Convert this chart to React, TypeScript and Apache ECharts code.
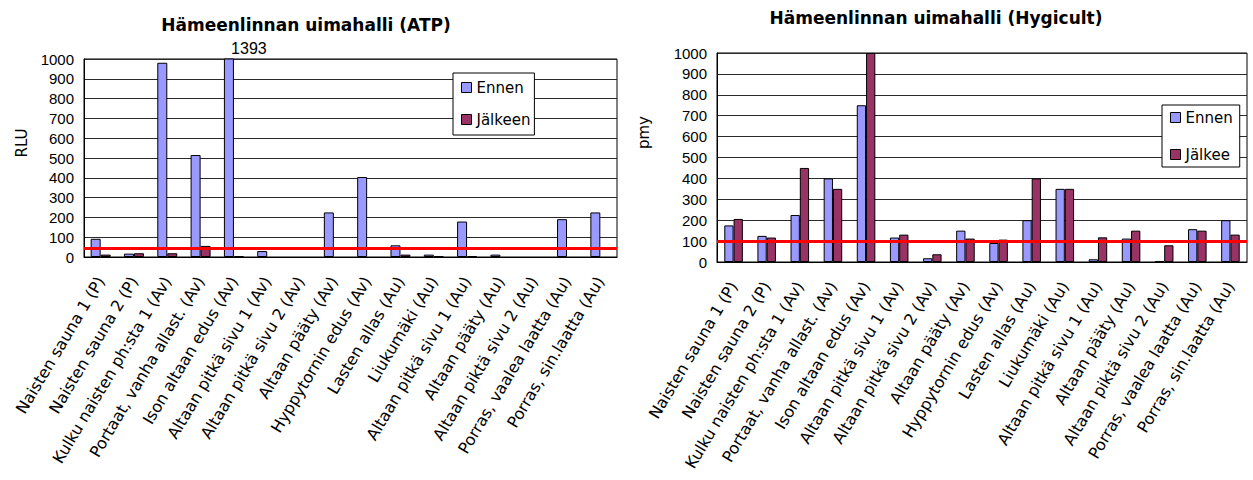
import React, { useEffect, useRef } from "react";
import * as echarts from "echarts";

const categories = [
  "Naisten sauna 1 (P)",
  "Naisten sauna 2 (P)",
  "Kulku naisten ph:sta 1 (Av)",
  "Portaat, vanha allast. (Av)",
  "Ison altaan edus (Av)",
  "Altaan pitkä sivu 1 (Av)",
  "Altaan pitkä sivu 2 (Av)",
  "Altaan pääty (Av)",
  "Hyppytornin edus (Av)",
  "Lasten allas (Au)",
  "Liukumäki (Au)",
  "Altaan pitkä sivu 1 (Au)",
  "Altaan pääty (Au)",
  "Altaan piktä sivu 2 (Au)",
  "Porras, vaalea laatta (Au)",
  "Porras, sin.laatta (Au)",
];

const atpEnnen = [92, 17, 981, 515, 1393, 30, null, 225, 404, 59, 12, 179, 12, null, 191, 225];
const atpJalkeen = [12, 19, 19, 56, 5, null, null, null, null, 12, 5, 5, null, null, null, null];
const atpLimit = 45;

const hygEnnen = [175, 125, 225, 400, 750, 117, 18, 150, 91, 200, 350, 13, 112, 5, 157, 200];
const hygJalkeen = [206, 117, 450, 350, 1000, 131, 37, 112, 107, 400, 350, 118, 150, 80, 150, 131];
const hygLimit = 100;

const ticksMax = 1000;
const ticksStep = 100;

const COL_ENNEN = "#9999FF";
const COL_JALKEEN = "#993366";
const SANS = "DejaVu Sans";
const ARIAL = "Liberation Sans";

function yAxis(gridIndex: number, name: string, nameGap: number, shift: number) {
  return {
    type: "value",
    gridIndex,
    min: 0,
    max: ticksMax,
    interval: ticksStep,
    name,
    nameLocation: "middle",
    nameGap,
    nameRotate: 90,
    nameTextStyle: { fontFamily: SANS, fontSize: 15, color: "#000", padding: [0, 0, 0, shift] },
    axisLine: { show: true, lineStyle: { color: "#000", width: 1 } },
    axisTick: { show: false },
    axisLabel: {
      fontFamily: ARIAL,
      fontSize: 15,
      color: "#000",
      margin: 10,
      formatter: (v: number) => String(v),
    },
    splitLine: { show: true, lineStyle: { color: "#2a2a2a", width: 1 } },
  };
}

function xAxis(gridIndex: number) {
  return {
    type: "category",
    gridIndex,
    data: categories,
    axisLine: { show: true, lineStyle: { color: "#000", width: 1 } },
    axisTick: { show: false },
    axisLabel: {
      interval: 0,
      rotate: 59,
      fontFamily: SANS,
      fontSize: 16,
      color: "#000",
      margin: 21,
    },
    splitLine: { show: false },
  };
}

function limitLine(v: number) {
  return {
    silent: true,
    symbol: "none",
    label: { show: false },
    lineStyle: { color: "#FF0000", width: 3, type: "solid" },
    data: [{ yAxis: v }],
  };
}

const barItem = (c: string) => ({ color: c, borderColor: "#000", borderWidth: 1 });

export default function App() {
  const ref = useRef<HTMLDivElement>(null);
  useEffect(() => {
    if (!ref.current) return;
    const chart = echarts.init(ref.current, null, { renderer: "svg" });
    const legendCommon = {
      orient: "vertical",
      icon: "rect",
      itemWidth: 10,
      itemHeight: 10,
      backgroundColor: "#fff",
      borderColor: "#000",
      borderWidth: 1,
      borderRadius: 0,
      itemStyle: { borderColor: "#000", borderWidth: 1 },
      textStyle: { fontFamily: SANS, fontSize: 15, color: "#000", lineHeight: 15 },
      selectedMode: false,
    };
    chart.setOption({
      animation: false,
      backgroundColor: "#fff",
      title: [
        {
          text: "Hämeenlinnan uimahalli (ATP)",
          left: 306,
          top: 16,
          textAlign: "center",
          padding: 0,
          textStyle: { fontFamily: SANS, fontWeight: "bold", fontSize: 17, color: "#000" },
        },
        {
          text: "Hämeenlinnan uimahalli (Hygicult)",
          left: 936,
          top: 9,
          textAlign: "center",
          padding: 0,
          textStyle: { fontFamily: SANS, fontWeight: "bold", fontSize: 17, color: "#000" },
        },
      ],
      legend: [
        {
          ...legendCommon,
          data: ["Ennen", "Jälkeen"],
          left: 453,
          top: 73,
          padding: [7, 4, 8, 8],
          itemGap: 17,
        },
        {
          ...legendCommon,
          data: ["Ennen", "Jälkee"],
          left: 1162,
          top: 105,
          padding: [5, 7, 5, 8],
          itemGap: 22,
        },
      ],
      grid: [
        { left: 84, top: 59, width: 533, height: 198, show: true, borderColor: "#000", borderWidth: 1, backgroundColor: "#fff" },
        { left: 717, top: 53, width: 530, height: 209, show: true, borderColor: "#000", borderWidth: 1, backgroundColor: "#fff" },
      ],
      xAxis: [xAxis(0), xAxis(1)],
      yAxis: [yAxis(0, "RLU", 55, 30), yAxis(1, "pmy", 66, 50)],
      series: [
        {
          name: "Ennen",
          type: "bar",
          xAxisIndex: 0,
          yAxisIndex: 0,
          barWidth: "30%",
          barGap: "0%",
          clip: true,
          itemStyle: barItem(COL_ENNEN),
          data: atpEnnen.map((v) =>
            v !== null && v > ticksMax
              ? {
                  value: v,
                  label: {
                    show: true,
                    position: "top",
                    distance: 2,
                    offset: [20, 0],
                    formatter: String(v),
                    fontFamily: ARIAL,
                    fontSize: 16,
                    color: "#000",
                  },
                }
              : v
          ),
          markLine: limitLine(atpLimit),
        },
        {
          name: "Jälkeen",
          type: "bar",
          xAxisIndex: 0,
          yAxisIndex: 0,
          barWidth: "30%",
          barGap: "0%",
          itemStyle: barItem(COL_JALKEEN),
          data: atpJalkeen,
        },
        {
          name: "Ennen",
          type: "bar",
          xAxisIndex: 1,
          yAxisIndex: 1,
          barWidth: "28%",
          barGap: "0%",
          itemStyle: barItem(COL_ENNEN),
          data: hygEnnen,
          markLine: limitLine(hygLimit),
        },
        {
          name: "Jälkee",
          type: "bar",
          xAxisIndex: 1,
          yAxisIndex: 1,
          barWidth: "28%",
          barGap: "0%",
          itemStyle: barItem(COL_JALKEEN),
          data: hygJalkeen,
        },
      ],
    });
    return () => chart.dispose();
  }, []);
  return (
    <div
      ref={ref}
      style={{ position: "absolute", left: 0, top: 0, width: 1253, height: 480, background: "#fff" }}
    />
  );
}
